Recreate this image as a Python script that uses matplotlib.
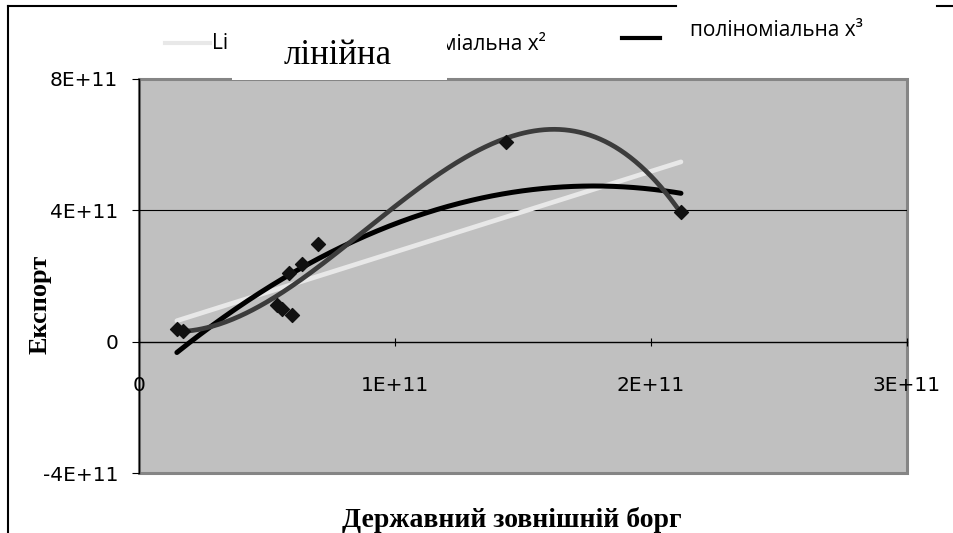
import numpy as np
import matplotlib
matplotlib.use("Agg")
import matplotlib.pyplot as plt
from matplotlib.lines import Line2D
from matplotlib.patches import Rectangle

# Державний зовнішній борг (x) та експорт (y)
debt = [1.48e10, 1.72e10, 5.39e10, 5.59e10, 5.86e10, 5.98e10, 6.37e10, 6.99e10, 1.434e11, 2.117e11]
export = [4.0e10, 3.4e10, 1.13e11, 1.01e11, 2.08e11, 8.2e10, 2.38e11, 2.96e11, 6.08e11, 3.94e11]

x_ticks = [0, 1e11, 2e11, 3e11]
x_tick_labels = ["0", "1E+11", "2E+11", "3E+11"]
y_ticks = [-4e11, 0, 4e11, 8e11]
y_tick_labels = ["-4E+11", "0", "4E+11", "8E+11"]

W, H = 954, 533
fig = plt.figure(figsize=(W / 100, H / 100), dpi=100)
fig.patch.set_facecolor("white")

def fx(px):
    return px / W

def fy(py):
    return 1 - py / H

ax = fig.add_axes([fx(139), fy(473), fx(907) - fx(139), fy(79) - fy(473)])
ax.set_facecolor("#C0C0C0")
ax.set_xlim(0, 3e11)
ax.set_ylim(-4e11, 8e11)

# лінії трендів (як у Excel) – від мінімального до максимального x
xs = np.linspace(min(debt), max(debt), 300)
lin = np.polynomial.Polynomial.fit(debt, export, 1)
quad = np.polynomial.Polynomial.fit(debt, export, 2)
cub = np.polynomial.Polynomial.fit(debt, export, 3)

ax.axhline(4e11, color="black", lw=0.8, zorder=1)
ax.plot(xs, lin(xs), color="#E8E8E8", lw=3.4, solid_capstyle="round", zorder=3)
ax.plot(xs, quad(xs), color="black", lw=3.6, solid_capstyle="round", zorder=3)
ax.plot(xs, cub(xs), color="#3C3C3C", lw=3.4, solid_capstyle="round", zorder=4)
ax.scatter(debt, export, marker="D", s=50, color="#111111", zorder=5)

# вісь x проходить через 0
for s in ["top", "right"]:
    ax.spines[s].set_visible(False)
ax.spines["bottom"].set_position(("data", 0))
ax.spines["bottom"].set_color("black")
ax.spines["bottom"].set_linewidth(1)
ax.spines["left"].set_color("black")
ax.spines["left"].set_linewidth(1)
ax.add_patch(Rectangle((0, 0), 1, 1, transform=ax.transAxes, fill=False,
                       edgecolor="#858585", lw=2.2, clip_on=False, zorder=0))

ax.set_xticks(x_ticks)
ax.set_xticklabels(x_tick_labels)
ax.set_yticks(y_ticks)
ax.set_yticklabels(y_tick_labels)
ax.tick_params(axis="x", direction="inout", length=6, pad=22, labelsize=14.5)
ax.tick_params(axis="y", direction="out", length=5, pad=10, labelsize=14.5)
for lab in ax.get_xticklabels() + ax.get_yticklabels():
    lab.set_family("DejaVu Sans")

fig.text(fx(40), fy(304), "Експорт", rotation=90, ha="center", va="center",
         family="Liberation Serif", weight="bold", fontsize=19)
fig.text(fx(512), fy(520), "Державний зовнішній борг", ha="center", va="center",
         family="Liberation Serif", weight="bold", fontsize=20)

# легенда (частково закрита білою вставкою)
fig.add_artist(Line2D([fx(165), fx(210)], [fy(43), fy(43)], color="#E8E8E8", lw=3))
fig.text(fx(212), fy(43), "Li", ha="left", va="center", family="Open Sans", fontsize=15)
fig.text(fx(546), fy(44), "поліноміальна x²", ha="right", va="center",
         family="Open Sans", fontsize=15)
fig.add_artist(Line2D([fx(622), fx(660)], [fy(38), fy(38)], color="black", lw=3))
fig.text(fx(690), fy(31), "поліноміальна x³", ha="left", va="center",
         family="Open Sans", fontsize=15)

# біла вставка з підписом, що закриває частину легенди
fig.add_artist(Rectangle((fx(232), fy(80)), fx(447) - fx(232), fy(22) - fy(80),
                         facecolor="white", edgecolor="none", zorder=10))
fig.text(fx(338), fy(56), "лінійна", ha="center", va="center",
         family="Liberation Serif", fontsize=25, zorder=11)

# рамки скриншоту
fig.add_artist(Line2D([fx(8), fx(8)], [fy(6), fy(533)], color="black", lw=1.5))
fig.add_artist(Line2D([fx(8), fx(676)], [fy(6), fy(6)], color="black", lw=1.5))
fig.add_artist(Line2D([fx(937), fx(954)], [fy(6), fy(6)], color="black", lw=1.5))

fig.savefig("out.png", dpi=100)
